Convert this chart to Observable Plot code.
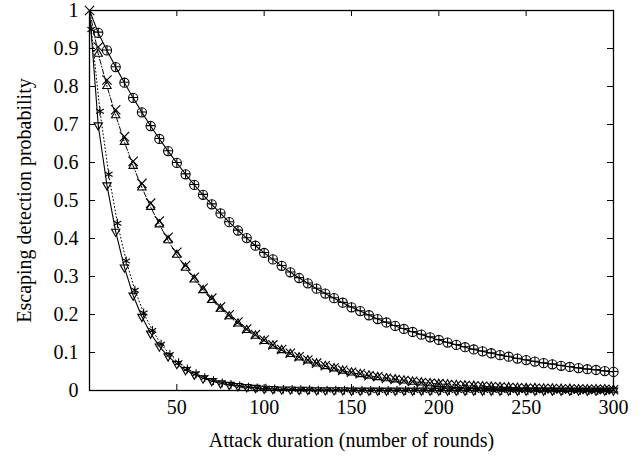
<!DOCTYPE html>
<html>
<head>
<meta charset="utf-8">
<script src="https://cdn.jsdelivr.net/npm/d3@7"></script>
<script src="https://cdn.jsdelivr.net/npm/@observablehq/plot@0.6"></script>
<style>
  html, body { margin: 0; padding: 0; background: #fff; }
</style>
</head>
<body>
<div id="chart"></div>
<script>
// Tick labels
const xTicks = [50, 100, 150, 200, 250, 300];
const yTicks = [0, 0.1, 0.2, 0.3, 0.4, 0.5, 0.6, 0.7, 0.8, 0.9, 1];

// Attack duration (rounds) for most series
const rounds = [0,5,10,15,20,25,30,35,40,45,50,55,60,65,70,75,80,85,90,95,
  100,105,110,115,120,125,130,135,140,145,150,155,160,165,170,175,180,185,190,195,
  200,205,210,215,220,225,230,235,240,245,250,255,260,265,270,275,280,285,290,295,300];
// rounds for the star series
const starRounds = [1,6,11,16,21,26,31,36,41,46,51,56,61,66,71,76,81,86,91,96,
  101,106,111,116,121,126,131,136,141,146,151,156,161,166,171,176,181,186,191,196,
  201,206,211,216,221,226,231,236,241,246,251,256,261,266,271,276,281,286,291,296];

// Upper curve: circles (solid line) and plus markers
const circleProb = [1.000,0.941,0.895,0.851,0.810,0.770,0.732,0.696,0.662,0.630,
  0.599,0.569,0.541,0.515,0.490,0.466,0.443,0.421,0.401,0.381,
  0.362,0.345,0.328,0.311,0.296,0.282,0.268,0.255,0.243,0.231,
  0.219,0.209,0.198,0.188,0.179,0.170,0.162,0.154,0.147,0.140,
  0.133,0.126,0.120,0.114,0.108,0.103,0.098,0.093,0.089,0.084,
  0.080,0.076,0.072,0.069,0.065,0.062,0.059,0.056,0.054,0.051,0.049];
const plusProb = [1.000,0.943,0.896,0.852,0.811,0.771,0.733,0.697,0.663,0.631,
  0.600,0.570,0.542,0.516,0.491,0.467,0.444,0.422,0.402,0.382,
  0.363,0.346,0.329,0.312,0.297,0.283,0.269,0.256,0.244,0.232,
  0.220,0.210,0.199,0.189,0.180,0.171,0.163,0.155,0.148,0.141,
  0.134,0.127,0.121,0.115,0.109,0.104,0.099,0.094,0.090,0.085,
  0.081,0.077,0.073,0.070,0.066,0.063,0.060,0.057,0.055,0.052,0.050];

// Middle curve: triangles (dash-dot line) and crosses
const triProb = [1.000,0.886,0.801,0.724,0.654,0.591,0.534,0.483,0.437,0.395,
  0.357,0.323,0.292,0.264,0.238,0.215,0.195,0.176,0.159,0.144,
  0.130,0.118,0.106,0.096,0.087,0.079,0.071,0.064,0.058,0.052,
  0.047,0.043,0.039,0.035,0.032,0.029,0.026,0.023,0.021,0.019,
  0.017,0.016,0.014,0.013,0.012,0.011,0.010,0.009,0.008,0.007,
  0.006,0.006,0.005,0.005,0.004,0.004,0.003,0.003,0.003,0.003,0.002];
const crossProb = [1.000,0.904,0.817,0.739,0.668,0.603,0.545,0.493,0.446,0.403,
  0.364,0.329,0.298,0.269,0.243,0.220,0.199,0.180,0.162,0.147,
  0.133,0.120,0.108,0.098,0.089,0.080,0.072,0.065,0.059,0.053,
  0.048,0.044,0.039,0.036,0.032,0.029,0.026,0.024,0.021,0.019,
  0.018,0.016,0.014,0.013,0.012,0.011,0.010,0.009,0.008,0.007,
  0.006,0.006,0.005,0.005,0.004,0.004,0.004,0.003,0.003,0.003,0.002];

// Lower curve: down-triangles (solid line) and stars (dotted line)
const downProb = [1.000,0.698,0.540,0.418,0.324,0.250,0.194,0.150,0.116,0.090,
  0.070,0.054,0.042,0.032,0.025,0.019,0.015,0.012,0.009,0.007,
  0.005,0.004,0.003,0.003,0.002,0.002,0.001,0.001,0.001,0.001,
  0,0,0,0,0,0,0,0,0,0,
  0,0,0,0,0,0,0,0,0,0,
  0,0,0,0,0,0,0,0,0,0,0];
const starProb = [0.950,0.735,0.569,0.440,0.341,0.264,0.204,0.158,0.122,0.095,
  0.073,0.057,0.044,0.034,0.026,0.020,0.016,0.012,0.009,0.007,
  0.006,0.004,0.003,0.003,0.002,0.002,0.001,0.001,0.001,0.001,
  0,0,0,0,0,0,0,0,0,0,
  0,0,0,0,0,0,0,0,0,0,
  0,0,0,0,0,0,0,0,0,0];

const mk = (xs, ys) => xs.map((x, i) => ({x, y: ys[i]}));
const circles = mk(rounds, circleProb);
const pluses = mk(rounds, plusProb);
const tris = mk(rounds, triProb);
const crosses = mk(rounds, crossProb);
const downs = mk(rounds, downProb);
const stars = mk(starRounds, starProb);

const triangleDown = {
  draw(context, size) {
    const s = Math.sqrt(size) * 0.6824;
    const t = s / 2;
    const u = s * Math.sqrt(3) / 2;
    context.moveTo(0, s);
    context.lineTo(u, -t);
    context.lineTo(-u, -t);
    context.closePath();
  }
};

const font = "'Liberation Serif', 'DejaVu Serif', serif";
const W = 643, H = 459, ML = 89, MR = 30, MT = 10, MB = 69;
const fw = W - ML - MR, fh = H - MT - MB, tk = 6;
const fs = 20;

const dotOpts = {x: "x", y: "y", fill: "none", stroke: "black", strokeWidth: 1.1};

const chart = Plot.plot({
  width: W, height: H,
  marginLeft: ML, marginRight: MR, marginTop: MT, marginBottom: MB,
  style: {fontFamily: font, fontSize: fs + "px", background: "white", color: "black"},
  x: {domain: [0, 300]},
  y: {domain: [0, 1]},
  marks: [
    // lines
    Plot.line(circles, {x: "x", y: "y", stroke: "black", strokeWidth: 1.1}),
    Plot.line(tris, {x: "x", y: "y", stroke: "black", strokeWidth: 1, strokeDasharray: "5,2,1,2"}),
    Plot.line(downs, {x: "x", y: "y", stroke: "black", strokeWidth: 1.1}),
    Plot.line(stars, {x: "x", y: "y", stroke: "black", strokeWidth: 1, strokeDasharray: "1,2.5"}),
    // markers
    Plot.dot(circles.filter(d => d.x > 0), {...dotOpts, symbol: "circle", r: 4.6}),
    Plot.dot(pluses.filter(d => d.x > 0), {...dotOpts, symbol: "plus", r: 3.0}),
    Plot.dot(tris.filter(d => d.x > 0), {...dotOpts, symbol: "triangle2", r: 4.0}),
    Plot.dot(crosses, {...dotOpts, symbol: "times", r: 4.3}),
    Plot.dot(downs.filter(d => d.x > 0), {...dotOpts, symbol: triangleDown, r: 4.0}),
    Plot.dot(stars, {...dotOpts, symbol: "asterisk", r: 4.2}),
    // frame and inward ticks
    Plot.frame({stroke: "black", strokeWidth: 1.3}),
    Plot.tickX(xTicks, {x: d => d, stroke: "black", insetTop: fh - tk}),
    Plot.tickX(xTicks, {x: d => d, stroke: "black", insetBottom: fh - tk}),
    Plot.tickY(yTicks, {y: d => d, stroke: "black", insetRight: fw - tk}),
    Plot.tickY(yTicks, {y: d => d, stroke: "black", insetLeft: fw - tk}),
    // axis labels
    Plot.axisX(xTicks, {anchor: "bottom", tickSize: 0, tickPadding: 9, label: null, fontSize: fs}),
    Plot.axisY(yTicks, {anchor: "left", tickSize: 0, tickPadding: 11, label: null, fontSize: fs, tickFormat: d => String(d)}),
    Plot.text(["Attack duration (number of rounds)"], {frameAnchor: "bottom", dy: 50, text: d => d, fontSize: fs, lineAnchor: "middle", textAnchor: "middle"}),
    Plot.text(["Escaping detection probability"], {frameAnchor: "left", dx: -65, rotate: -90, text: d => d, fontSize: fs, lineAnchor: "middle", textAnchor: "middle"})
  ]
});
document.getElementById("chart").appendChild(chart);
</script>
</body>
</html>
